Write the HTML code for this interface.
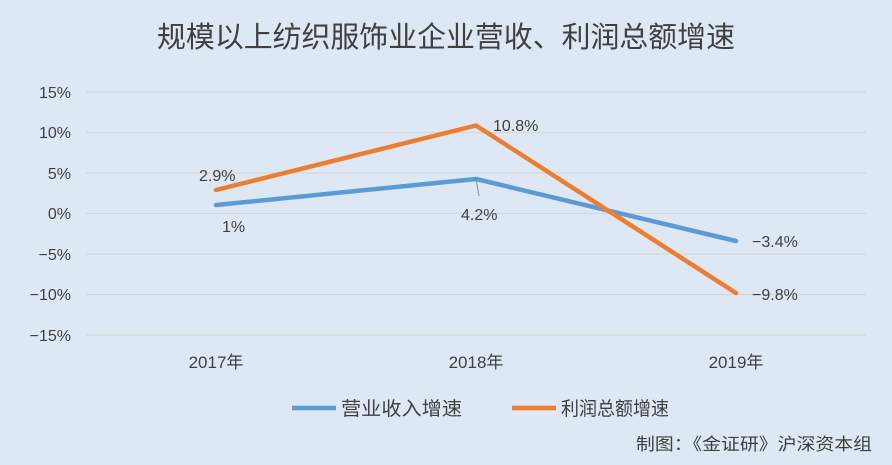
<!DOCTYPE html>
<html><head><meta charset="utf-8"><style>
body{margin:0;width:892px;height:465px;background:#dee8f4;overflow:hidden}
svg{display:block}
text{font-family:"Liberation Sans","Noto Sans CJK SC",sans-serif;fill:#404040}
</style></head><body>
<svg width="892" height="465" viewBox="0 0 892 465">
<rect width="892" height="465" fill="#dee8f4"/>
<text x="446" y="47" font-size="29" text-anchor="middle" fill="#333" textLength="578" lengthAdjust="spacingAndGlyphs">规模以上纺织服饰业企业营收、利润总额增速</text>
<g stroke="#d6d6d6" stroke-width="1.3">
<line x1="86" x2="866" y1="92" y2="92"/><line x1="86" x2="866" y1="132.5" y2="132.5"/>
<line x1="86" x2="866" y1="173" y2="173"/><line x1="86" x2="866" y1="213.5" y2="213.5"/>
<line x1="86" x2="866" y1="254" y2="254"/><line x1="86" x2="866" y1="294.5" y2="294.5"/>
<line x1="86" x2="866" y1="335" y2="335"/>
</g>
<g font-size="16" text-anchor="end">
<text x="71" y="98">15%</text><text x="71" y="138">10%</text><text x="71" y="179">5%</text>
<text x="71" y="219">0%</text><text x="71" y="260">−5%</text><text x="71" y="300">−10%</text><text x="71" y="341">−15%</text>
</g>
<g font-size="17" text-anchor="middle">
<text x="216" y="368">2017年</text><text x="476" y="368">2018年</text><text x="736" y="368">2019年</text>
</g>
<line x1="476" y1="179" x2="479" y2="196" stroke="#a0a0a0" stroke-width="1.3"/>
<polyline points="216,205 476,179 736,241" fill="none" stroke="#5b9bd5" stroke-width="4.5" stroke-linejoin="round" stroke-linecap="round"/>
<polyline points="216,190 476,125.5 736,293" fill="none" stroke="#ed7d31" stroke-width="4.5" stroke-linejoin="round" stroke-linecap="round"/>
<g font-size="16">
<text x="199" y="181">2.9%</text><text x="222" y="232">1%</text>
<text x="461" y="220">4.2%</text><text x="493" y="131">10.8%</text>
<text x="752" y="247">−3.4%</text><text x="752" y="300">−9.8%</text>
</g>
<line x1="292" y1="408" x2="336" y2="408" stroke="#5b9bd5" stroke-width="4.5"/>
<text x="341" y="415" font-size="19" textLength="121" lengthAdjust="spacingAndGlyphs">营业收入增速</text>
<line x1="512" y1="408" x2="556" y2="408" stroke="#ed7d31" stroke-width="4.5"/>
<text x="561" y="415" font-size="19" textLength="108" lengthAdjust="spacingAndGlyphs">利润总额增速</text>
<text x="872" y="450" font-size="17" text-anchor="end" fill="#333" textLength="236" lengthAdjust="spacingAndGlyphs">制图：《金证研》沪深资本组</text>
</svg>
</body></html>
